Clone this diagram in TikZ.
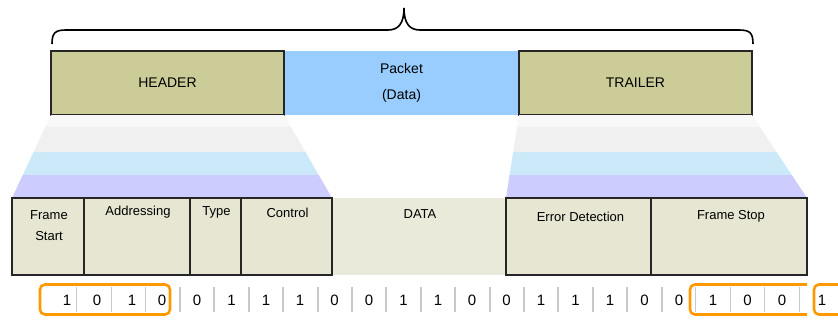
\documentclass[tikz,border=0pt]{standalone}
\usepackage{fontspec}
\setmainfont{Liberation Sans}
\usetikzlibrary{calc}
\definecolor{olivebox}{HTML}{CCCC99}
\definecolor{pktblue}{HTML}{99CCFF}
\definecolor{fieldfill}{HTML}{E6E6D3}
\definecolor{datafill}{HTML}{EAEADB}
\definecolor{bandA}{HTML}{F8F8F8}
\definecolor{bandB}{HTML}{F0F0F0}
\definecolor{bandC}{HTML}{CCE9F9}
\definecolor{bandD}{HTML}{CCCCFF}
\definecolor{orng}{HTML}{FF9900}
\definecolor{sepgray}{HTML}{C8C8C8}
\begin{document}
\begin{tikzpicture}[x=1pt,y=-1pt,
  bigbox/.style={draw=black!85, line width=1.1pt, fill=olivebox, minimum height=64pt, inner sep=0pt, font=\fontsize{14}{16}\selectfont},
  pktbox/.style={fill=pktblue, minimum height=64pt, inner sep=0pt, align=center, font=\fontsize{14}{26}\selectfont},
  fieldbox/.style={draw=black!85, line width=1.1pt, fill=fieldfill, minimum height=77pt, inner sep=0pt},
  databox/.style={fill=datafill, minimum height=77pt, inner sep=0pt},
  lbl/.style={inner sep=0pt, align=center, font=\fontsize{13}{21}\selectfont},
  bit/.style={inner sep=0pt, font=\fontsize{15}{17}\selectfont},
  sepline/.style={draw=sepgray, line width=2pt},
  septhin/.style={draw=sepgray, line width=1pt},
  obox/.style={draw=orng, line width=2.6pt, rounded corners=5pt},
  bracestyle/.style={draw=black, line width=1.6pt}
]
\useasboundingbox (0,0) rectangle (838,320);
\fill[white] (0,0) rectangle (838,320);

% brace
\draw[bracestyle] (52,44) .. controls (52,33) and (55,30) .. (66,30) -- (388,30)
  .. controls (398,30) and (404,24) .. (404,8)
  .. controls (404,24) and (410,30) .. (420,30) -- (739,30)
  .. controls (750,30) and (753,33) .. (753,44);

% top row
\node[pktbox, minimum width=235pt] (packet) at (401.5,83) {Packet\\(Data)};
\node[bigbox, minimum width=233pt] (header) at (167.5,83) {HEADER};
\node[bigbox, minimum width=233pt] (trailer) at (635.5,83) {TRAILER};

% left expansion bands
\begin{scope}
\clip (51,115) -- (284,115) -- (332,198) -- (12,198) -- cycle;
\fill[bandA] (0,115) rectangle (400,127);
\fill[bandB] (0,127) rectangle (400,152);
\fill[bandC] (0,152) rectangle (400,175);
\fill[bandD] (0,175) rectangle (400,198);
\end{scope}
% right expansion bands
\begin{scope}
\clip (519,115) -- (752,115) -- (807,198) -- (506,198) -- cycle;
\fill[bandA] (480,115) rectangle (838,127);
\fill[bandB] (480,127) rectangle (838,152);
\fill[bandC] (480,152) rectangle (838,175);
\fill[bandD] (480,175) rectangle (838,198);
\end{scope}

% fields
\node[databox, minimum width=174pt] (data) at (419,236.5) {};
\node[fieldbox, minimum width=72pt] (f1) at (48,236.5) {};
\node[fieldbox, minimum width=106pt] (f2) at (137,236.5) {};
\node[fieldbox, minimum width=51pt] (f3) at (215.5,236.5) {};
\node[fieldbox, minimum width=91pt] (f4) at (286.5,236.5) {};
\node[fieldbox, minimum width=145pt] (f5) at (578.5,236.5) {};
\node[fieldbox, minimum width=156pt] (f6) at (729,236.5) {};

\node[lbl] (l1) at ($(f1.north)+(1,28)$) {Frame\\Start};
\node[lbl] (l2) at ($(f2.north)+(1,15)$) {Addressing};
\node[lbl] (l3) at ($(f3.north)+(1,15)$) {Type};
\node[lbl] (l4) at ($(f4.north)+(1,15)$) {Control};
\node[lbl] (l5) at ($(data.north)+(1,16)$) {DATA};
\node[lbl] (l6) at ($(f5.north)+(2,19)$) {Error Detection};
\node[lbl] (l7) at ($(f6.north)+(2,19)$) {Frame Stop};

% bit stream
\foreach \k/\x/\v in {0/67/1,1/97/0,2/132/1,3/162/0,4/197/0,5/231.5/1,6/266/1,7/300/1,8/334.5/0,9/369/0,10/403.5/1,
  11/438/1,12/472/0,13/506.5/0,14/541/1,15/575.5/1,16/610/1,17/644.5/0,18/679/0,19/713/1,20/747.5/0,21/782/0,22/822/1}{
  \node[bit] (b\k) at (\x,300) {\v};
}
\foreach \k in {1,2,3,19,20,21,22}{
  \pgfmathsetmacro{\ex}{42.3+34.4*\k}
  \draw[septhin] (\ex,287) -- (\ex,312);
}
\foreach \k in {4,...,18}{
  \pgfmathsetmacro{\ex}{42.3+34.4*\k}
  \draw[sepline] (\ex,287) -- (\ex,312);
}
\draw[obox] (40,284.5) rectangle (170,314.5);
\draw[obox] (807,284.5) -- (690,284.5) -- (690,314.5) -- (807,314.5);
\draw[obox] (840,284.5) -- (814,284.5) -- (814,314.5) -- (840,314.5);
\end{tikzpicture}
\end{document}
